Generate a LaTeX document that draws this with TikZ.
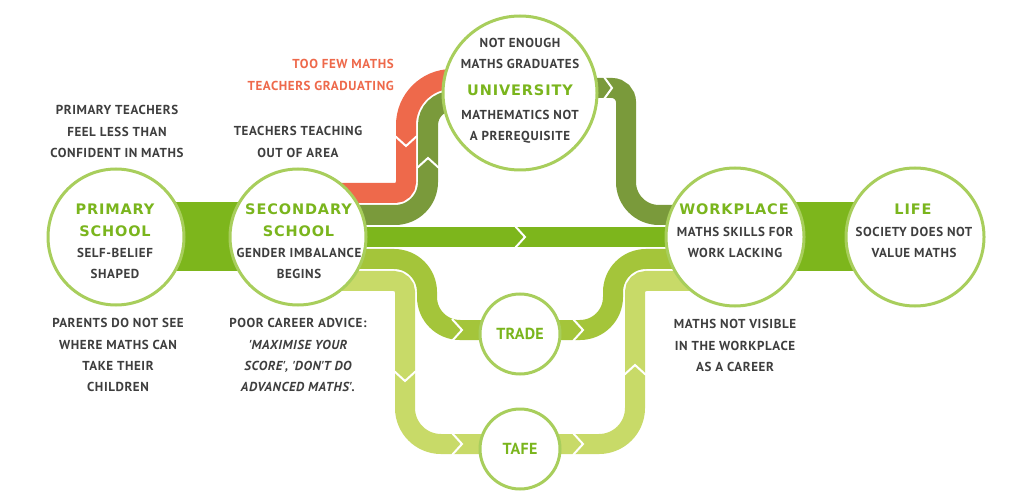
\documentclass[tikz,border=0pt]{standalone}
\usepackage{fontspec}
\usetikzlibrary{calc}
\newfontfamily\bodyf{PT Sans}[LetterSpace=4.5]
\newfontfamily\trf{PT Sans}[LetterSpace=1.5]
\newfontfamily\titlef{DejaVu Sans}[LetterSpace=6]
\definecolor{brightg}{HTML}{7DB61C}
\definecolor{oliveg}{HTML}{7A9A3B}
\definecolor{tradeg}{HTML}{A4C53A}
\definecolor{lightg}{HTML}{C8DA68}
\definecolor{redc}{HTML}{EE694B}
\definecolor{ringc}{HTML}{A8CE5C}
\definecolor{titleg}{HTML}{7AB51D}
\definecolor{textg}{HTML}{3E3E3E}
\pgfdeclarelayer{bg}
\pgfsetlayers{bg,main}
\tikzset{
  ring/.style={circle, draw=ringc, line width=3pt, fill=white, inner sep=0pt},
  band/.style={line width=20pt},
  chev/.style={draw=white, line width=2pt, line join=miter},
  ttl/.style={font=\titlef\bfseries\fontsize{14.5}{22}\selectfont, text=titleg, align=center, inner sep=0pt, anchor=north},
  bod/.style={font=\bodyf\bfseries\fontsize{13}{20.5}\selectfont, text=textg, align=center, inner sep=0pt, anchor=north},
  outb/.style={font=\bodyf\bfseries\fontsize{13}{21.2}\selectfont, text=textg, align=center, inner sep=0pt, anchor=north},
  smallttl/.style={font=\trf\bfseries\fontsize{16}{16}\selectfont, text=titleg}
}
\begin{document}
\begin{tikzpicture}[x=1pt,y=-1pt]
\useasboundingbox (0,0) rectangle (1024,502);
% circles
\node[ring, minimum size=136pt] (prim) at (116,237) {};
\node[ring, minimum size=136pt] (sec) at (298,237) {};
\node[ring, minimum size=154pt] (univ) at (520,93) {};
\node[ring, minimum size=138pt] (work) at (735,237) {};
\node[ring, minimum size=138pt] (life) at (915,237) {};
\node[ring, minimum size=80pt, smallttl] (trade) at (520,334) {TRADE};
\node[ring, minimum size=80pt, smallttl] (tafe) at (520,449) {TAFE};
% texts inside circles
\node[ttl] (primt) at (115,203.7) {PRIMARY\\SCHOOL};
\node[bod] (primb) at (115,248.5) {SELF-BELIEF\\SHAPED};
\node[ttl] (sect) at (298.5,203.7) {SECONDARY\\SCHOOL};
\node[bod] (secb) at (299,248.5) {GENDER IMBALANCE\\BEGINS};
\node[bod] (univa) at (520,38.5) {NOT ENOUGH\\MATHS GRADUATES};
\node[ttl] (univt) at (520,84.7) {UNIVERSITY};
\node[bod] (univb) at (520,110.5) {MATHEMATICS NOT\\A PREREQUISITE};
\node[ttl] (workt) at (734,203.7) {WORKPLACE};
\node[bod] (workb) at (735,227.5) {MATHS SKILLS FOR\\WORK LACKING};
\node[ttl] (lifet) at (913,203.7) {LIFE};
\node[bod] (lifeb) at (914,227.5) {SOCIETY DOES NOT\\VALUE MATHS};
% outside texts
\node[outb] (pt) at (117,105.5) {PRIMARY TEACHERS\\FEEL LESS THAN\\CONFIDENT IN MATHS};
\node[outb] (tt) at (298,126.5) {TEACHERS TEACHING\\OUT OF AREA};
\node[outb, text=redc, align=right, anchor=north east] (tf) at (394,59.5) {TOO FEW MATHS\\TEACHERS GRADUATING};
\node[outb] (pa) at (118,318.5) {PARENTS DO NOT SEE\\WHERE MATHS CAN\\TAKE THEIR\\CHILDREN};
\node[outb] (pc) at (298,318.5) {POOR CAREER ADVICE:\\\itshape \textquotesingle MAXIMISE YOUR\\\itshape SCORE\textquotesingle, \textquotesingle DON\textquotesingle T DO\\\itshape ADVANCED MATHS\textquotesingle.};
\node[outb] (mv) at (735,319.5) {MATHS NOT VISIBLE\\IN THE WORKPLACE\\AS A CAREER};
\begin{pgfonlayer}{bg}
\fill[white] (0,0) rectangle (1024,502);
\fill[brightg] ($(prim.center)+(0,-34.5)$) rectangle ($(sec.center)+(0,34.5)$);
\fill[brightg] ($(work.center)+(0,-34.5)$) rectangle ($(life.center)+(0,34.5)$);
\draw[band, brightg] (sec.center) -- (work.center);
% secondary -> university (olive)
\draw[band, oliveg] ($(sec.center)+(0,-22)$) -- (395,215) arc[start angle=90,end angle=0,radius=33]
  -- (428,125) arc[start angle=180,end angle=270,radius=24] -- ($(univ.center)+(0,8)$);
% university -> secondary (red)
\draw[band, redc] ($(univ.center)+(0,-14)$) -- (452,79) arc[start angle=270,end angle=180,radius=46]
  -- (406,182) arc[start angle=0,end angle=90,radius=11] -- ($(sec.center)+(0,-44)$);
% university -> workplace (olive)
\draw[band, oliveg] ($(univ.center)+(0,-5)$) -- (612,88) arc[start angle=270,end angle=360,radius=14]
  -- (626,182) arc[start angle=180,end angle=90,radius=33] -- ($(work.center)+(0,-22)$);
% secondary -> trade -> workplace
\draw[band, tradeg] ($(sec.center)+(0,22)$) -- (394,259) arc[start angle=270,end angle=360,radius=33]
  -- (427,297) arc[start angle=180,end angle=90,radius=33] -- ($(trade.center)+(0,-4)$);
\draw[band, tradeg] ($(trade.center)+(0,-4)$) -- (580,330) arc[start angle=90,end angle=0,radius=33]
  -- (613,292) arc[start angle=180,end angle=270,radius=33] -- ($(work.center)+(0,22)$);
% secondary -> tafe -> workplace
\draw[band, lightg] ($(sec.center)+(0,44)$) -- (394,281) arc[start angle=270,end angle=360,radius=11]
  -- (405,408) arc[start angle=180,end angle=90,radius=36] -- ($(tafe.center)+(0,-5)$);
\draw[band, lightg] ($(tafe.center)+(0,-5)$) -- (599,444) arc[start angle=90,end angle=0,radius=36]
  -- (635,292) arc[start angle=180,end angle=270,radius=11] -- ($(work.center)+(0,44)$);
% chevrons
\draw[chev, shift={(520,237)}] (-5,-11) -- (5,0) -- (-5,11);
\draw[chev, shift={(406,141)}] (-11,-5) -- (0,5) -- (11,-5);
\draw[chev, shift={(428,163)}] (-11,5) -- (0,-5) -- (11,5);
\draw[chev, shift={(608,88)}] (-4,-11) -- (4,0) -- (-4,11);
\draw[chev, shift={(457,330)}] (-5,-11) -- (5,0) -- (-5,11);
\draw[chev, shift={(578,330)}] (-5,-11) -- (5,0) -- (-5,11);
\draw[chev, shift={(457,444)}] (-5,-11) -- (5,0) -- (-5,11);
\draw[chev, shift={(578,444)}] (-5,-11) -- (5,0) -- (-5,11);
\draw[chev, shift={(405,376)}] (-11,-5) -- (0,5) -- (11,-5);
\draw[chev, shift={(635,370)}] (-11,5) -- (0,-5) -- (11,5);
\end{pgfonlayer}
\end{tikzpicture}
\end{document}
